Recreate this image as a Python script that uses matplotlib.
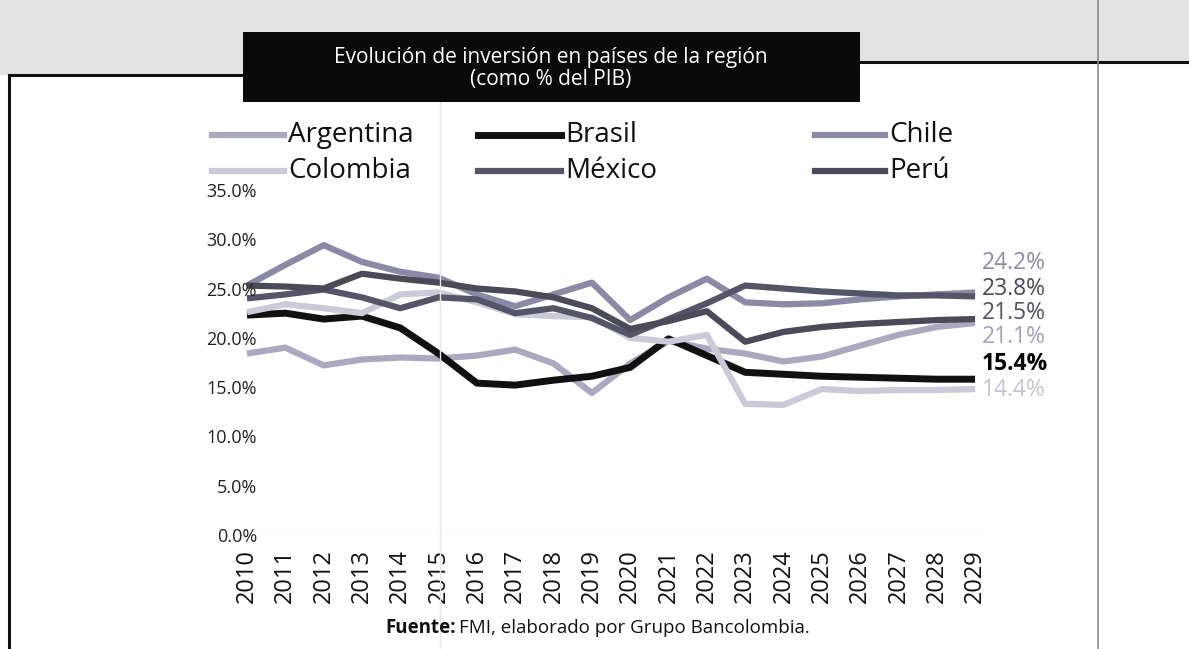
import numpy as np
import matplotlib.pyplot as plt
from matplotlib.lines import Line2D
from matplotlib.patches import Rectangle
from matplotlib import transforms

# Datos: inversión como % del PIB
years = list(range(2010, 2030))
argentina = [18.0, 18.6, 16.8, 17.4, 17.6, 17.5, 17.8, 18.4, 17.0, 14.0,
             17.0, 19.3, 18.5, 18.0, 17.2, 17.7, 18.8, 19.9, 20.7, 21.1]
brasil = [21.9, 22.1, 21.5, 21.8, 20.6, 18.0, 15.0, 14.8, 15.3, 15.7,
          16.6, 19.5, 17.8, 16.1, 15.9, 15.7, 15.6, 15.5, 15.4, 15.4]
chile = [24.9, 27.0, 29.0, 27.3, 26.3, 25.7, 24.0, 22.8, 24.0, 25.2,
         21.4, 23.7, 25.6, 23.2, 23.0, 23.1, 23.5, 23.8, 24.0, 24.2]
colombia = [22.2, 23.0, 22.6, 22.1, 24.0, 24.2, 23.2, 22.0, 21.8, 21.7,
            19.6, 19.2, 19.9, 12.9, 12.8, 14.4, 14.2, 14.3, 14.3, 14.4]
mexico = [23.6, 24.0, 24.5, 23.7, 22.6, 23.7, 23.5, 22.1, 22.6, 21.6,
          19.9, 21.5, 23.1, 24.9, 24.6, 24.3, 24.1, 23.9, 23.9, 23.8]
peru = [24.9, 24.8, 24.6, 26.1, 25.6, 25.2, 24.6, 24.3, 23.7, 22.6,
        20.5, 21.3, 22.3, 19.2, 20.2, 20.7, 21.0, 21.2, 21.4, 21.5]

countries = ['Argentina', 'Brasil', 'Chile', 'Colombia', 'México', 'Perú']
series = [argentina, brasil, chile, colombia, mexico, peru]
colors = ['#a9a9c0', '#111111', '#8a8aa6', '#cacad8', '#55556a', '#4a4a58']
widths = [4.5, 5.0, 4.5, 4.5, 4.5, 4.5]
label_colors = ['#a0a0b8', '#000000', '#8c8ca4', '#c4c4d4', '#4a4a58', '#505060']
# desplazamiento de las etiquetas finales (puntos)
label_dy = [-10.0, 10.8, 21.0, -1.0, 5.0, 4.3]
yticks = [0, 5, 10, 15, 20, 25, 30, 35]

W, H = 1189, 649
FONT = 'Open Sans'


def fx(px):
    return px / W


def fy(py):
    return 1 - py / H


fig = plt.figure(figsize=(W / 100, H / 100), dpi=100)
fig.patch.set_facecolor('white')

# Franja gris superior (papel escaneado) y marco
fig.add_artist(Rectangle((0, fy(62)), 1, 62 / H, transform=fig.transFigure,
                         facecolor='#e3e3e3', edgecolor='none', zorder=0))
fig.add_artist(Rectangle((0, fy(75)), fx(243), 13 / H, transform=fig.transFigure,
                         facecolor='#e3e3e3', edgecolor='none', zorder=0))
fig.add_artist(Line2D([fx(9), fx(9)], [fy(75), fy(649)], color='#111111', lw=2.2))
fig.add_artist(Line2D([fx(9), fx(243)], [fy(75), fy(75)], color='#111111', lw=2.2))
fig.add_artist(Line2D([fx(860), fx(1189)], [fy(62), fy(62)], color='#111111', lw=2.2))
fig.add_artist(Line2D([fx(1098), fx(1098)], [0, 1], color='#8a8a8a', lw=1.2))
fig.add_artist(Line2D([fx(440), fx(440)], [0, 1], color='#e6e6e6', lw=1.0))

# Caja negra del título
fig.add_artist(Rectangle((fx(243), fy(102)), fx(860) - fx(243), 70 / H,
                         transform=fig.transFigure, facecolor='#0a0a0a',
                         edgecolor='none', zorder=2))
fig.text(fx(551), fy(57), 'Evolución de inversión en países de la región',
         color='white', fontsize=15, family=FONT, ha='center', va='center', zorder=3)
fig.text(fx(551), fy(80), '(como % del PIB)',
         color='white', fontsize=15, family=FONT, ha='center', va='center', zorder=3)

# Ejes
ax = fig.add_axes([fx(240), fy(531), fx(985) - fx(240), (531 - 186) / H])
ax.set_facecolor('none')
x = np.arange(len(years))
for name, vals, c, lw in zip(countries, series, colors, widths):
    ax.plot(x, vals, color=c, lw=lw, solid_capstyle='butt', solid_joinstyle='round',
            clip_on=False, label=name)

ax.axhline(0, color='#e8e8e8', lw=1.0, zorder=0)
ax.set_xlim(-7 / 38.32, 738 / 38.32)
ax.set_ylim(0, 35)
for s in ax.spines.values():
    s.set_visible(False)
ax.set_yticks([])
ax.set_xticks(x)
ax.set_xticklabels([str(y) for y in years], rotation=90, fontsize=17, family=FONT,
                   color='#111111')
ax.tick_params(axis='x', length=0, pad=13)

# Etiquetas del eje Y (ligeramente desplazadas hacia abajo como en el original)
ytrans = transforms.offset_copy(
    transforms.blended_transform_factory(ax.transAxes, ax.transData),
    fig=fig, x=0, y=-6, units='dots')
for v in yticks:
    ax.text(17 / 745, v, f'{v:.1f}%', transform=ytrans, ha='right', va='center',
            fontsize=13, family=FONT, color='#222222')

# Etiquetas del último valor
for vals, c, dy, i in zip(series, label_colors, label_dy, range(len(series))):
    ax.annotate(f'{vals[-1]:.1f}%', xy=(x[-1], vals[-1]), xytext=(5, dy),
                textcoords='offset points', ha='left', va='center',
                fontsize=16.5, family=FONT, color=c,
                fontweight='bold' if countries[i] == 'Brasil' else 'normal')

# Leyenda manual (3 columnas x 2 filas)
leg_cols = [(212, 284), (478, 561), (815, 885)]
leg_rows = [135, 171]
for i, (name, c) in enumerate(zip(countries, colors)):
    col, row = i % 3, i // 3
    x0, x1 = leg_cols[col]
    yy = leg_rows[row]
    fig.add_artist(Line2D([fx(x0), fx(x1)], [fy(yy), fy(yy)], color=c,
                          lw=4.5 if name != 'Brasil' else 5.0))
    fig.text(fx(x1 + 4), fy(yy), name, fontsize=20, family=FONT, color='#111111',
             ha='left', va='center')

# Fuente
t1 = fig.text(fx(385), fy(628), 'Fuente:', fontsize=13.5, family=FONT,
              fontweight='bold', ha='left', va='center', color='#111111')
fig.canvas.draw()
bb = t1.get_window_extent()
fig.text(bb.x1 / W + 3 / W, fy(628), 'FMI, elaborado por Grupo Bancolombia.',
         fontsize=13.5, family=FONT, ha='left', va='center', color='#111111')

fig.savefig('out.png', dpi=100)
